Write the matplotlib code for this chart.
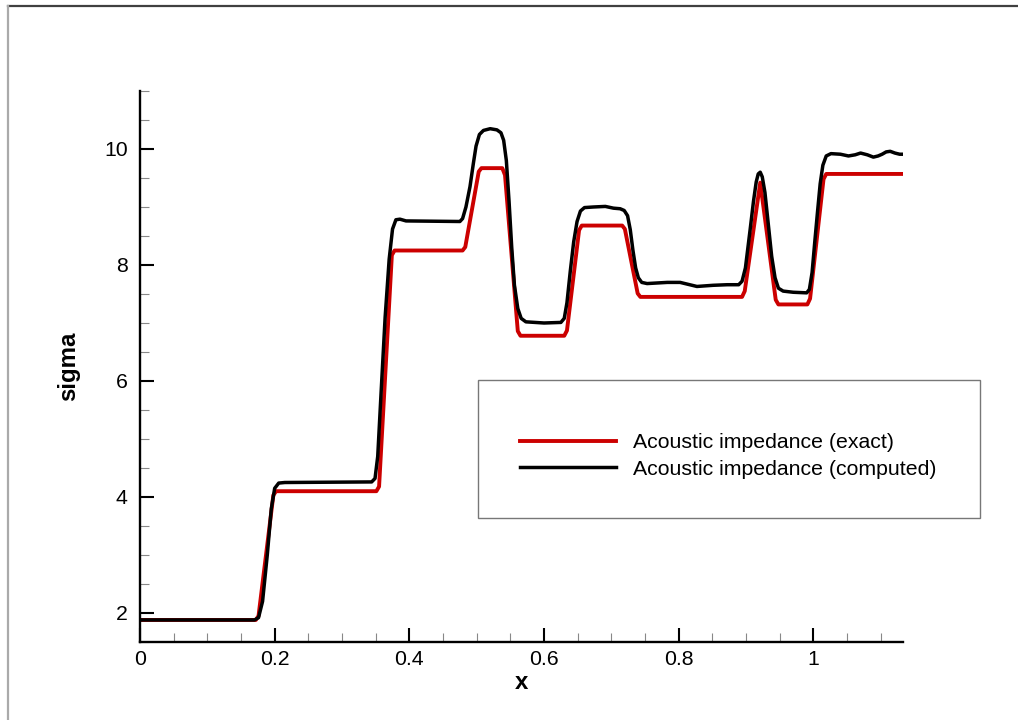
import matplotlib
matplotlib.use('Agg')
import matplotlib.pyplot as plt
from matplotlib.ticker import MultipleLocator, FuncFormatter
from matplotlib.lines import Line2D
from matplotlib.patches import Rectangle

plt.rcParams['font.family'] = ['Liberation Sans', 'DejaVu Sans']

# exact acoustic impedance (piecewise constant states)
x_exact = [0.0, 0.172, 0.176, 0.198, 0.202, 0.351, 0.355, 0.374, 0.378,
           0.479, 0.483, 0.503, 0.507, 0.538, 0.542, 0.561, 0.565,
           0.630, 0.634, 0.652, 0.656, 0.716, 0.720, 0.739, 0.743,
           0.894, 0.898, 0.921, 0.944, 0.948, 0.991, 0.995, 1.015, 1.019, 1.133]
sigma_exact = [1.88, 1.88, 1.95, 4.03, 4.10, 4.10, 4.18, 8.17, 8.25,
               8.25, 8.31, 9.61, 9.67, 9.67, 9.55, 6.86, 6.78,
               6.78, 6.87, 8.60, 8.68, 8.68, 8.62, 7.51, 7.45,
               7.45, 7.55, 9.42, 7.40, 7.32, 7.32, 7.42, 9.48, 9.57, 9.57]

# computed acoustic impedance
x_comp = [0.0, 0.170, 0.176, 0.182, 0.189, 0.195, 0.200, 0.206, 0.215,
          0.344, 0.349, 0.353, 0.358, 0.364, 0.370, 0.375, 0.380, 0.386,
          0.395, 0.475, 0.479, 0.484, 0.490, 0.495, 0.499, 0.504, 0.510,
          0.520, 0.530, 0.536, 0.540, 0.544, 0.548, 0.552, 0.556, 0.561,
          0.566, 0.573, 0.600, 0.625, 0.630, 0.634, 0.639, 0.644, 0.649,
          0.654, 0.660, 0.673, 0.691, 0.703, 0.713, 0.719, 0.724, 0.728,
          0.732, 0.736, 0.740, 0.745, 0.753, 0.783, 0.802, 0.827, 0.851,
          0.872, 0.889, 0.894, 0.899, 0.906, 0.911, 0.915, 0.918, 0.921,
          0.924, 0.928, 0.933, 0.938, 0.943, 0.948, 0.955, 0.970, 0.990,
          0.994, 0.998, 1.002, 1.006, 1.010, 1.014, 1.019, 1.026, 1.040,
          1.052, 1.062, 1.070, 1.080, 1.089, 1.096, 1.102, 1.108, 1.114,
          1.121, 1.128, 1.133]
sigma_comp = [1.88, 1.88, 1.92, 2.20, 3.00, 3.80, 4.15, 4.24, 4.25,
              4.26, 4.32, 4.70, 5.80, 7.10, 8.10, 8.62, 8.78, 8.79,
              8.76, 8.75, 8.80, 9.00, 9.35, 9.75, 10.05, 10.25, 10.32,
              10.35, 10.33, 10.28, 10.15, 9.80, 9.10, 8.30, 7.65, 7.25,
              7.08, 7.02, 7.00, 7.01, 7.08, 7.35, 7.90, 8.40, 8.75,
              8.93, 8.99, 9.00, 9.01, 8.98, 8.97, 8.94, 8.85, 8.61,
              8.25, 7.95, 7.78, 7.70, 7.68, 7.70, 7.70, 7.63, 7.65,
              7.66, 7.66, 7.72, 7.95, 8.61, 9.10, 9.43, 9.57, 9.60,
              9.52, 9.25, 8.70, 8.15, 7.78, 7.60, 7.55, 7.53, 7.52,
              7.58, 7.87, 8.40, 8.91, 9.40, 9.72, 9.88, 9.92, 9.91,
              9.88, 9.90, 9.93, 9.90, 9.86, 9.88, 9.91, 9.95, 9.96,
              9.93, 9.91, 9.91]

fig = plt.figure(figsize=(10.18, 7.2), dpi=100)

# outer page frame (top and left edges)
fig.add_artist(Line2D([8/1018, 1], [1-6/720, 1-6/720], transform=fig.transFigure,
                      color='#404040', lw=1.6))
fig.add_artist(Line2D([8/1018, 8/1018], [0, 1-6/720], transform=fig.transFigure,
                      color='#aaaaaa', lw=1.6))

ax = fig.add_axes([140/1018, 78/720, 763/1018, 551/720])

ax.plot(x_exact, sigma_exact, color='#cc0000', lw=2.8, solid_joinstyle='round',
        label='Acoustic impedance (exact)')
ax.plot(x_comp, sigma_comp, color='black', lw=2.5, solid_joinstyle='round',
        label='Acoustic impedance (computed)')

ax.set_xlim(0, 1.133)
ax.set_ylim(1.5, 11.0)

for s in ['top', 'right']:
    ax.spines[s].set_visible(False)
for s in ['left', 'bottom']:
    ax.spines[s].set_linewidth(1.7)

ax.xaxis.set_major_locator(MultipleLocator(0.2))
ax.xaxis.set_minor_locator(MultipleLocator(0.05))
ax.yaxis.set_major_locator(MultipleLocator(2))
ax.yaxis.set_minor_locator(MultipleLocator(0.5))
ax.xaxis.set_major_formatter(FuncFormatter(lambda v, p: '%g' % round(v, 3)))
ax.yaxis.set_major_formatter(FuncFormatter(lambda v, p: '%g' % v))

ax.tick_params(which='major', direction='in', length=10, width=1.5,
               labelsize=15.3, pad=6)
ax.tick_params(which='minor', direction='in', length=6.5, width=0.8,
               color='#888888')
ax.tick_params(axis='y', which='major', pad=9)

ax.set_xlabel('x', fontsize=17.3, fontweight='bold', labelpad=1)
ax.set_ylabel('sigma', fontsize=17.3, fontweight='bold', labelpad=17)

# legend box
fig.add_artist(Rectangle((478/1018, 202/720), 502/1018, 138/720,
                         transform=fig.transFigure, fill=False,
                         edgecolor='#777777', lw=1.0))
ax.legend(loc='center left', bbox_to_anchor=(520/1018, 264/720),
          bbox_transform=fig.transFigure, frameon=False, fontsize=15.3,
          borderpad=0, borderaxespad=0, handlelength=4.5, handletextpad=0.8,
          labelspacing=0.36)

fig.savefig('out.png', dpi=100)
